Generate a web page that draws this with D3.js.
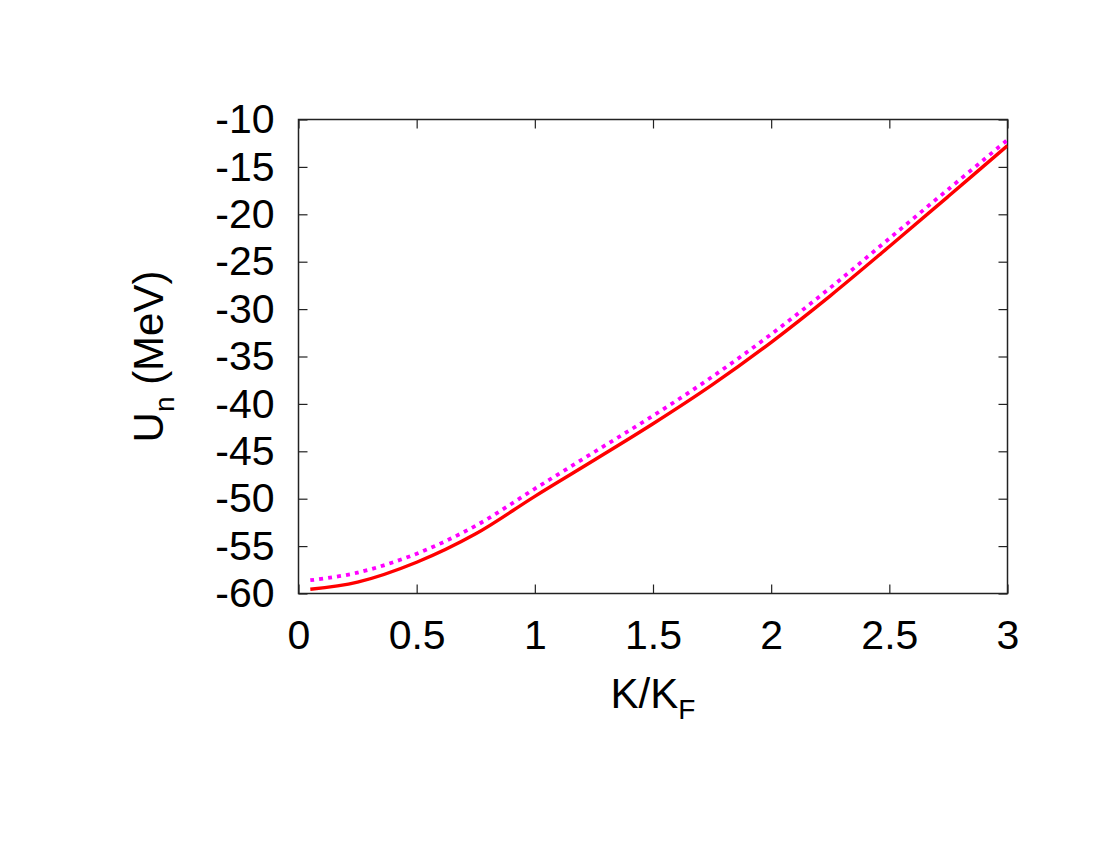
<!DOCTYPE html>
<html>
<head>
<meta charset="utf-8">
<script src="https://cdn.jsdelivr.net/npm/d3@7"></script>
<style>
  html, body { margin: 0; padding: 0; background: #fff; }
  svg { display: block; font-family: "Liberation Sans", Arial, Helvetica, sans-serif; }
</style>
</head>
<body>
<svg id="chart" width="1100" height="850"></svg>
<script>
// ---- data ----
const kValues = [0.05, 0.25, 0.50, 0.75, 1.00, 1.25, 1.50, 1.75, 2.00, 2.25, 2.50, 2.75, 3.00];
const redSeries = [-59.55, -58.8, -56.7, -53.7, -49.75, -45.95, -42.1, -38.0, -33.5, -28.6, -23.4, -18.1, -12.75];
const magentaSeries = [-58.6, -57.8, -55.8, -52.85, -48.95, -45.1, -41.25, -37.15, -32.65, -27.75, -22.55, -17.35, -12.15];
const xTicks = [0, 0.5, 1, 1.5, 2, 2.5, 3];
const yTicks = [-10, -15, -20, -25, -30, -35, -40, -45, -50, -55, -60];

// ---- layout ----
const pLeft = 298.5, pRight = 1007.5, pTop = 119.5, pBottom = 593.5;
const svg = d3.select("#chart");
const x = d3.scaleLinear().domain([0, 3]).range([pLeft, pRight]);
const y = d3.scaleLinear().domain([-60, -10]).range([pBottom, pTop]);

const fontSize = 41;
const axisColor = "#222";
const tickLen = 9;
const fmt = d => String(d);

// clip
svg.append("defs").append("clipPath").attr("id", "clip")
  .append("rect").attr("x", pLeft).attr("y", pTop).attr("width", pRight - pLeft).attr("height", pBottom - pTop);

// axes (ticks on all four sides, inward)
function styleAxis(g) {
  g.select(".domain").remove();
  g.selectAll(".tick line").attr("stroke", axisColor).attr("stroke-width", 1.2);
  g.selectAll(".tick text").attr("fill", "#000").style("font-size", fontSize + "px")
    .style("font-family", '"Liberation Sans", Arial, sans-serif');
}

const xBottom = svg.append("g").attr("transform", `translate(0,${pBottom})`)
  .call(d3.axisBottom(x).tickValues(xTicks).tickSize(-tickLen).tickPadding(26).tickFormat(fmt));
styleAxis(xBottom);
xBottom.selectAll(".tick text").attr("dy", "0.71em");

const xTop = svg.append("g").attr("transform", `translate(0,${pTop})`)
  .call(d3.axisTop(x).tickValues(xTicks).tickSize(-tickLen).tickFormat(""));
styleAxis(xTop);

const yLeft = svg.append("g").attr("transform", `translate(${pLeft},0)`)
  .call(d3.axisLeft(y).tickValues(yTicks).tickSize(-tickLen).tickPadding(24).tickFormat(fmt));
styleAxis(yLeft);

const yRight = svg.append("g").attr("transform", `translate(${pRight},0)`)
  .call(d3.axisRight(y).tickValues(yTicks).tickSize(-tickLen).tickFormat(""));
styleAxis(yRight);

// border
svg.append("rect").attr("x", pLeft).attr("y", pTop).attr("width", pRight - pLeft).attr("height", pBottom - pTop)
  .attr("fill", "none").attr("stroke", axisColor).attr("stroke-width", 1.5);

// lines
const line = d3.line().x(d => x(d[0])).y(d => y(d[1])).curve(d3.curveCatmullRom.alpha(0.5));
const plotG = svg.append("g").attr("clip-path", "url(#clip)");

plotG.append("path")
  .datum(kValues.map((k, i) => [k, magentaSeries[i]]))
  .attr("d", line).attr("fill", "none").attr("stroke", "#ff00ff")
  .attr("stroke-width", 3.8).attr("stroke-dasharray", "4,5");

plotG.append("path")
  .datum(kValues.map((k, i) => [k, redSeries[i]]))
  .attr("d", line).attr("fill", "none").attr("stroke", "#ff0000")
  .attr("stroke-width", 3.4);

// axis titles
const xt = svg.append("text").attr("x", (pLeft + pRight) / 2).attr("y", 708)
  .attr("text-anchor", "middle").style("font-size", "42px").attr("fill", "#000");
xt.append("tspan").text("K/K");
xt.append("tspan").text("F").attr("dy", 11).style("font-size", "28px");

const yt = svg.append("text")
  .attr("transform", `translate(163,${(pTop + pBottom) / 2}) rotate(-90)`)
  .attr("text-anchor", "middle").style("font-size", "42px").attr("fill", "#000");
yt.append("tspan").text("U");
yt.append("tspan").text("n").attr("dy", 11).style("font-size", "28px");
yt.append("tspan").text(" (MeV)").attr("dy", -11);
</script>
</body>
</html>
